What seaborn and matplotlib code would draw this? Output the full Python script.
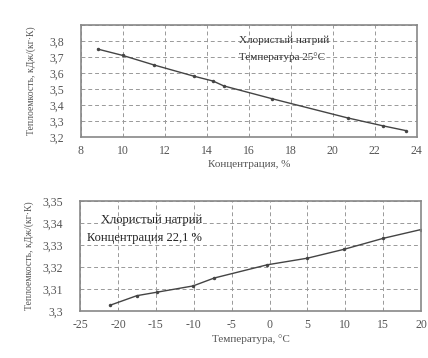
import numpy as np
import pandas as pd
import matplotlib
matplotlib.use('Agg')
import matplotlib.pyplot as plt
import seaborn as sns

# Данные: теплоемкость раствора NaCl
conc = [8.8, 10, 11.5, 13.4, 14.3, 14.8, 17.1, 20.7, 22.4, 23.5]
cp_conc = [3.75, 3.71, 3.65, 3.58, 3.55, 3.52, 3.44, 3.32, 3.27, 3.24]

temp = [-21, -17.5, -14.8, -10.1, -7.3, -0.3, 5, 9.8, 15, 20]
cp_temp = [3.3027, 3.3070, 3.3086, 3.3114, 3.3150, 3.3210, 3.3240, 3.3280, 3.3330, 3.3370]

xt_top = [8, 10, 12, 14, 16, 18, 20, 22, 24]
yt_top = [3.2, 3.3, 3.4, 3.5, 3.6, 3.7, 3.8]
xt_bot = [-25, -20, -15, -10, -5, 0, 5, 10, 15, 20]
yt_bot = [3.30, 3.31, 3.32, 3.33, 3.34, 3.35]

sns.set_style('white')
plt.rcParams['font.family'] = ['Liberation Serif', 'DejaVu Serif']
plt.rcParams['font.size'] = 8
plt.rcParams['axes.unicode_minus'] = False

gray = '#555555'
fig = plt.figure(figsize=(4.28, 3.58), dpi=100)
ax1 = fig.add_axes([0.189, 0.617, 0.785, 0.313])
ax2 = fig.add_axes([0.187, 0.131, 0.797, 0.308])


def style(ax):
    for s in ax.spines.values():
        s.set_color('#888888')
        s.set_linewidth(1.2)
    ax.grid(True, linestyle=(0, (4, 3)), color='#999999', linewidth=0.7)
    ax.tick_params(axis='x', colors=gray, labelsize=8.5, length=0, pad=6)
    ax.tick_params(axis='y', colors=gray, labelsize=8.5, length=0, pad=12)


# 1. Зависимость от концентрации
df1 = pd.DataFrame({'x': conc, 'y': cp_conc})
sns.lineplot(data=df1, x='x', y='y', ax=ax1, color='#444444', linewidth=1.0,
             marker='o', markersize=2.5, markeredgewidth=0)
ax1.set_xlim(8, 24)
ax1.set_ylim(3.2, 3.9)
ax1.set_xticks(xt_top)
ax1.set_yticks(yt_top + [3.9])
ax1.set_yticklabels([f'{v:.1f}'.replace('.', ',') for v in yt_top] + [''])
ax1.set_xlabel('Концентрация, %', color=gray, fontsize=8, labelpad=2)
ax1.set_ylabel('Теплоемкость, кДж/(кг·К)', color=gray, fontsize=7, labelpad=10)
style(ax1)
ax1.text(0.47, 0.84, 'Хлористый натрий', transform=ax1.transAxes, color='#333333', fontsize=8)
ax1.text(0.47, 0.69, 'Температура 25°С', transform=ax1.transAxes, color='#333333', fontsize=8)

# 2. Зависимость от температуры
df2 = pd.DataFrame({'x': temp, 'y': cp_temp})
sns.lineplot(data=df2, x='x', y='y', ax=ax2, color='#444444', linewidth=1.0,
             marker='o', markersize=2.5, markeredgewidth=0)
ax2.set_xlim(-25, 20)
ax2.set_ylim(3.30, 3.35)
ax2.set_xticks(xt_bot)
ax2.set_yticks(yt_bot)
ax2.set_yticklabels(['3,3', '3,31', '3,32', '3,33', '3,34', '3,35'])
ax2.set_xlabel('Температура, °С', color=gray, fontsize=8, labelpad=2)
ax2.set_ylabel('Теплоемкость, кДж/(кг·К)', color=gray, fontsize=7, labelpad=6)
style(ax2)
ax2.text(0.06, 0.80, 'Хлористый натрий', transform=ax2.transAxes, color='#222222', fontsize=9)
ax2.text(0.02, 0.64, 'Концентрация 22,1 %', transform=ax2.transAxes, color='#222222', fontsize=9)

plt.savefig('out.png', dpi=100)
plt.close()
